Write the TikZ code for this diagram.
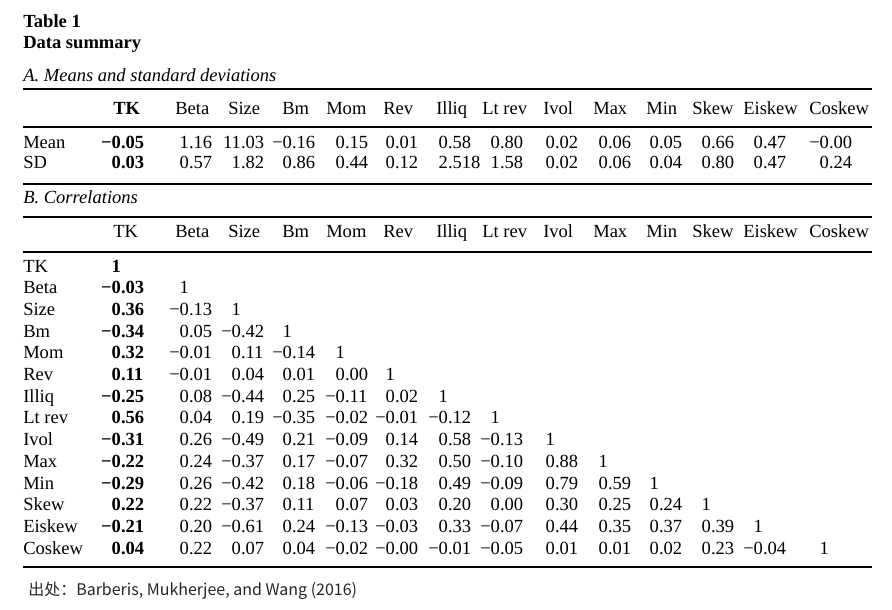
\documentclass[tikz,border=0pt]{standalone}
\usepackage{fontspec}
\setmainfont{Liberation Serif}
\newfontfamily\cjk{Noto Sans CJK SC}
\makeatletter
\def\dn#1{\expandafter\dn@aux#1..\relax}
\def\dn@aux#1.#2.#3\relax{\llap{#1}\if\relax\detokenize{#2}\relax\else\rlap{.#2}\fi}
\makeatother
\tikzset{
  txt/.style={inner sep=0pt, anchor=base west, font=\fontsize{13.9}{16}\selectfont},
  numcell/.style={inner sep=0pt, anchor=base, font=\fontsize{13.9}{16}\selectfont},
  thickrule/.style={line width=1.9pt},
  thinrule/.style={line width=0.8pt},
}
\begin{document}
\begin{tikzpicture}[x=0.75pt,y=-0.75pt]
\useasboundingbox (0,0) rectangle (892,610);
\fill[white] (0,0) rectangle (892,610);
\def\dplist{{121,189,241,292,345,395,448,500,555,608,659,711,763,829}}
% titles
\node[txt,font=\fontsize{13.9}{16}\selectfont\bfseries] (t1) at (23,28) {Table 1};
\node[txt,font=\fontsize{13.9}{16}\selectfont\bfseries] (t2) at (23,49) {Data summary};
\node[txt,font=\fontsize{13.9}{16}\selectfont\itshape] (pa) at (23,82) {A. Means and standard deviations};
\node[txt,font=\fontsize{13.9}{16}\selectfont\itshape] (pb) at (23,203) {B. Correlations};
% rules
\draw[thickrule] (23,89) -- (872,89);
\draw[thinrule] (23,127) -- (872,127);
\draw[thinrule] (23,184) -- (872,184);
\draw[thinrule] (23,217) -- (872,217);
\draw[thinrule] (23,252) -- (872,252);
\draw[thickrule] (23,567) -- (872,567);
% headers
\foreach \hx/\h [count=\k] in {113/TK,175/Beta,228/Size,282/Bm,326/Mom,383/Rev,436/Illiq,482/Lt rev,543/Ivol,593/Max,646/Min,692/Skew,743/Eiskew,809/Coskew}{
  \ifnum\k=1
    \node[txt,font=\fontsize{13.9}{16}\selectfont\bfseries] (ha-\k) at (\hx,114) {\h};
  \else
    \node[txt] (ha-\k) at (\hx,114) {\h};
  \fi
  \node[txt] (hb-\k) at (\hx,237) {\h};
}
% panel A
\foreach \lab/\yy/\vals [count=\i] in {
  Mean/148/{−0.05,1.16,11.03,−0.16,0.15,0.01,0.58,0.80,0.02,0.06,0.05,0.66,0.47,−0.00},
  SD/168/{0.03,0.57,1.82,0.86,0.44,0.12,2.518,1.58,0.02,0.06,0.04,0.80,0.47,0.24}}{
  \node[txt] (la-\i) at (23,\yy) {\lab};
  \foreach \v [count=\j] in \vals {
    \pgfmathsetmacro\xx{\dplist[\j-1]}
    \ifnum\j=1
      \node[numcell,font=\fontsize{13.9}{16}\selectfont\bfseries] (a-\i-\j) at (\xx,\yy) {\dn{\v}};
    \else
      \node[numcell] (a-\i-\j) at (\xx,\yy) {\dn{\v}};
    \fi
  }
}
% panel B
\foreach \lab/\vals [count=\i] in {
  TK/{1},
  Beta/{−0.03,1},
  Size/{0.36,−0.13,1},
  Bm/{−0.34,0.05,−0.42,1},
  Mom/{0.32,−0.01,0.11,−0.14,1},
  Rev/{0.11,−0.01,0.04,0.01,0.00,1},
  Illiq/{−0.25,0.08,−0.44,0.25,−0.11,0.02,1},
  Lt rev/{0.56,0.04,0.19,−0.35,−0.02,−0.01,−0.12,1},
  Ivol/{−0.31,0.26,−0.49,0.21,−0.09,0.14,0.58,−0.13,1},
  Max/{−0.22,0.24,−0.37,0.17,−0.07,0.32,0.50,−0.10,0.88,1},
  Min/{−0.29,0.26,−0.42,0.18,−0.06,−0.18,0.49,−0.09,0.79,0.59,1},
  Skew/{0.22,0.22,−0.37,0.11,0.07,0.03,0.20,0.00,0.30,0.25,0.24,1},
  Eiskew/{−0.21,0.20,−0.61,0.24,−0.13,−0.03,0.33,−0.07,0.44,0.35,0.37,0.39,1},
  Coskew/{0.04,0.22,0.07,0.04,−0.02,−0.00,−0.01,−0.05,0.01,0.01,0.02,0.23,−0.04,1}}{
  \pgfmathsetmacro\yy{272+21.7*(\i-1)}
  \node[txt] (lb-\i) at (23,\yy) {\lab};
  \foreach \v [count=\j] in \vals {
    \pgfmathsetmacro\xx{\dplist[\j-1]}
    \ifnum\j=1
      \node[numcell,font=\fontsize{13.9}{16}\selectfont\bfseries] (b-\i-\j) at (\xx,\yy) {\dn{\v}};
    \else
      \node[numcell] (b-\i-\j) at (\xx,\yy) {\dn{\v}};
    \fi
  }
}
% source
\node[txt,font=\fontsize{12}{14}\cjk,text=black!85] (src) at (28,595) {出处：Barberis, Mukherjee, and Wang (2016)};
\end{tikzpicture}
\end{document}
